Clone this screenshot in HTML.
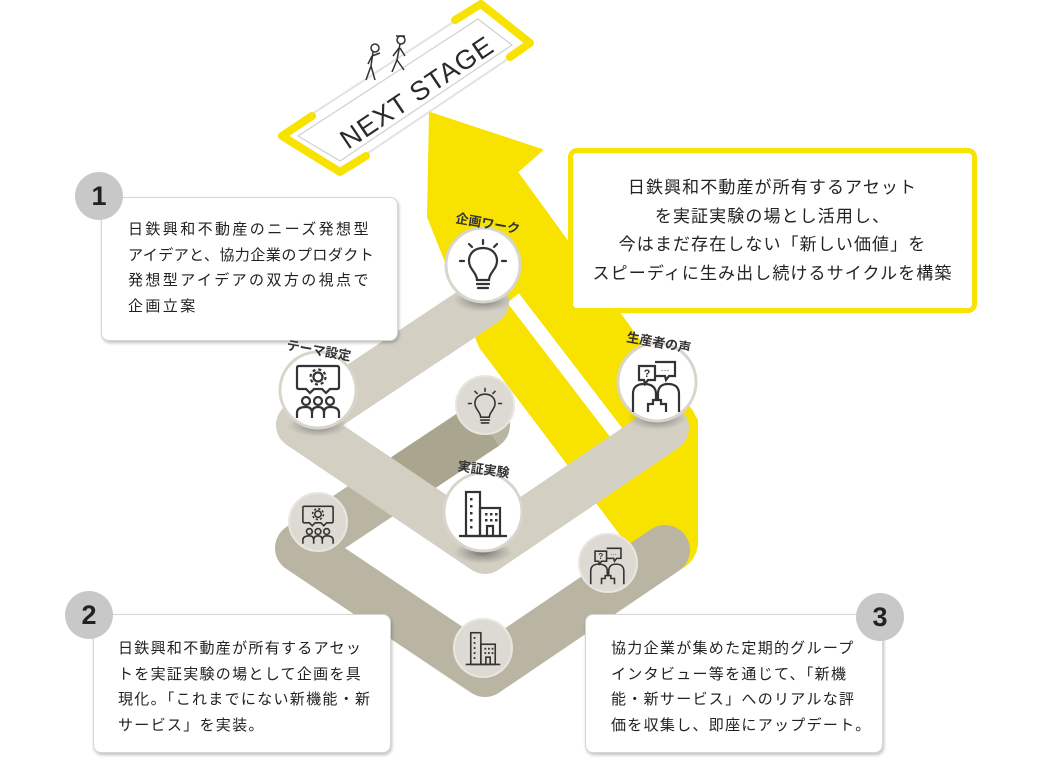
<!DOCTYPE html>
<html><head><meta charset="utf-8">
<style>
html,body{margin:0;padding:0;background:#fff;}
body{width:1040px;height:760px;position:relative;overflow:hidden;font-family:"Liberation Sans","Noto Sans CJK JP",sans-serif;}
.box{position:absolute;background:#fff;border:1.5px solid #d6d6d6;border-radius:8px;box-shadow:1px 2px 3px rgba(0,0,0,.25);box-sizing:border-box;color:#222;font-size:15px;line-height:25.5px;letter-spacing:1.3px;white-space:nowrap;}
.badge{position:absolute;width:48px;height:48px;border-radius:50%;background:#c8c8c8;color:#222;font:bold 27px "Liberation Sans",sans-serif;text-align:center;line-height:48px;}
.ybox{position:absolute;left:568px;top:148px;width:409px;height:165px;border:5px solid #f7e200;border-radius:9px;box-sizing:border-box;background:#fff;text-align:center;font-size:17px;line-height:28.5px;color:#222;padding-top:21px;letter-spacing:1.1px;white-space:nowrap;}
svg{position:absolute;left:0;top:0;}
</style></head><body>
<svg width="1040" height="760" viewBox="0 0 1040 760">
<defs>
<radialGradient id="sh" cx="50%" cy="50%" r="50%"><stop offset="0" stop-color="#555" stop-opacity=".8"/><stop offset="1" stop-color="#777" stop-opacity="0"/></radialGradient>
<g id="bulb" fill="none" stroke="#333" stroke-width="2.2" stroke-linecap="round">
<path d="M-6,10 C-6,3 -14,-1 -14,-9 C-14,-17 -8,-22 0,-22 C8,-22 14,-17 14,-9 C14,-1 6,3 6,10 Z"/>
<line x1="-6" y1="14" x2="6" y2="14"/><line x1="-5" y1="18" x2="5" y2="18"/>
<line x1="0" y1="-30" x2="0" y2="-26"/><line x1="-14" y1="-26" x2="-11" y2="-23"/><line x1="14" y1="-26" x2="11" y2="-23"/>
<line x1="-23" y1="-9" x2="-19" y2="-9"/><line x1="19" y1="-9" x2="23" y2="-9"/>
</g>
<g id="team" fill="none" stroke="#333" stroke-width="2.2">
<path d="M-19,-26 H19 Q21,-26 21,-24 V-5 Q21,-3 19,-3 H12 L8,1 L4,-3 H-4 L-8,1 L-12,-3 H-19 Q-21,-3 -21,-5 V-24 Q-21,-26 -19,-26 Z"/>
<circle cx="0" cy="-15" r="4.5"/><circle cx="0" cy="-15" r="7.5" stroke-dasharray="3 2.9"/>
<circle cx="-12" cy="9" r="4"/><circle cx="0" cy="9" r="4"/><circle cx="12" cy="9" r="4"/>
<path d="M-21,26 V21 Q-21,15 -12,15 Q-6,15 -6,21 V26 M-6,21 Q-6,15 0,15 Q6,15 6,21 V26 M6,21 Q6,15 12,15 Q21,15 21,21 V26"/>
</g>
<g id="bldg" fill="none" stroke="#333" stroke-width="2.2">
<rect x="-17" y="-24" width="14" height="44"/><rect x="-3" y="-8" width="20" height="28"/>
<line x1="-24" y1="20" x2="24" y2="20"/><path d="M4,20 V10 H10 V20"/>
<g fill="#333" stroke="none"><rect x="-13" y="-18" width="2.5" height="2.5"/><rect x="-13" y="-11" width="2.5" height="2.5"/><rect x="-13" y="-4" width="2.5" height="2.5"/><rect x="-13" y="3" width="2.5" height="2.5"/><rect x="-13" y="10" width="2.5" height="2.5"/>
<rect x="2" y="-3" width="2.5" height="2.5"/><rect x="7" y="-3" width="2.5" height="2.5"/><rect x="12" y="-3" width="2.5" height="2.5"/><rect x="2" y="3" width="2.5" height="2.5"/><rect x="7" y="3" width="2.5" height="2.5"/><rect x="12" y="3" width="2.5" height="2.5"/></g>
</g>
<g id="talk" fill="none" stroke="#333" stroke-width="2.2">
<path d="M-18,-22 H-2 V-8 H-9 L-12,-4 L-13,-8 H-18 Z"/><path d="M-2,-26 H18 V-12 H12 L9,-8 L8,-12 H-2"/>
<text x="-10" y="-11" font-size="11" font-weight="bold" fill="#333" stroke="none" text-anchor="middle" font-family="Liberation Sans">?</text>
<text x="8" y="-17" font-size="9" fill="#333" stroke="none" text-anchor="middle" font-family="Liberation Sans">…</text>
<path d="M-24,24 V6 Q-24,-4 -13,-4 Q-1,-4 -1,6 V12 L-4,12 V16 H-9 V24"/>
<path d="M22,24 V6 Q22,-4 11,-4 Q1,-4 1,6 V12 L4,12 V16 H9 V24"/>
</g>
</defs>

<!-- NEXT STAGE plate -->
<polygon points="280,135 340,172 530,44 481,4" fill="#fff" stroke="#e2e2e2" stroke-width="2"/>
<polygon points="298,136 340,161 512,45 478,19" fill="#fff" stroke="#d0d0d0" stroke-width="1.2"/>
<polyline points="312,116 282,136 340,172 366,156" fill="none" stroke="#f7e200" stroke-width="8" stroke-linejoin="round" stroke-linecap="round"/>
<polyline points="455,20 481,4 530,43 510,57" fill="none" stroke="#f7e200" stroke-width="8" stroke-linejoin="round" stroke-linecap="round"/>
<text x="422" y="100" transform="rotate(-34 422 100)" font-family="Liberation Sans" font-size="27" fill="#2a2a2a" text-anchor="middle" letter-spacing="1">NEXT STAGE</text>
<g fill="none" stroke="#333" stroke-width="1.5">
<circle cx="375" cy="48" r="4"/><path d="M373,52 L371,66 L375,80 M371,66 L366,80 M372,56 L380,53 M372,56 L368,64"/>
<circle cx="401" cy="40" r="4"/><path d="M396,36 H405 M400,44 L397,60 L392,72 M397,60 L404,70 M399,48 L393,56 M400,48 L405,56"/>
</g>

<!-- yellow arrow -->
<polygon points="430,113 542,150 517,172 697,420 697,545 640,560 480,347 428,217" fill="#f7e200" stroke="#f7e200" stroke-width="2" stroke-linejoin="round"/>
<circle cx="668" cy="542" r="30" fill="#f7e200"/>
<circle cx="670" cy="425" r="27" fill="#f7e200"/>
<line x1="513" y1="298" x2="645" y2="470" stroke="#fff" stroke-width="15"/>

<!-- lower diamond -->
<polyline points="485,425 300,548 485,672 665,550" fill="none" stroke="#b9b5a2" stroke-width="50" stroke-linejoin="round" stroke-linecap="round"/>
<line x1="485" y1="425" x2="390" y2="488" stroke="#a9a58f" stroke-width="50"/>
<!-- upper diamond -->
<polyline points="485,302 300,425 485,550 665,428" fill="none" stroke="#d3d0c3" stroke-width="48" stroke-linejoin="round" stroke-linecap="round"/>

<g fill="url(#sh)">
<ellipse cx="483" cy="300" rx="30" ry="12"/><ellipse cx="318" cy="425" rx="30" ry="12"/><ellipse cx="483" cy="552" rx="30" ry="12"/><ellipse cx="657" cy="418" rx="30" ry="12"/>
</g>
<g fill="#fff" stroke="#d8d6cc" stroke-width="3">
<circle cx="483" cy="265" r="37"/><circle cx="318" cy="390" r="38"/><circle cx="483" cy="512" r="39"/><circle cx="657" cy="382" r="39"/>
</g>
<g fill="#dcdad2" stroke="#e8e6de" stroke-width="2">
<circle cx="485" cy="405" r="29"/><circle cx="318" cy="522" r="29"/><circle cx="483" cy="648" r="29"/><circle cx="608" cy="563" r="29"/>
</g>
<use href="#bulb" transform="translate(483,270)"/>
<use href="#team" transform="translate(318,392)"/>
<use href="#bldg" transform="translate(483,516)"/>
<use href="#talk" transform="translate(657,388)"/>
<use href="#bulb" transform="translate(485,410) scale(.72)"/>
<use href="#team" transform="translate(318,525) scale(.72)"/>
<use href="#bldg" transform="translate(483,650) scale(.72)"/>
<use href="#talk" transform="translate(608,567) scale(.72)"/>
</svg>

<div class="ybox">日鉄興和不動産が所有するアセット<br>を実証実験の場とし活用し、<br>今はまだ存在しない「新しい価値」を<br>スピーディに生み出し続けるサイクルを構築</div>

<div class="box" style="left:101px;top:197px;width:297px;height:144px;padding:19px 0 0 26px;letter-spacing:2.4px;">日鉄興和不動産のニーズ発想型<br><span style="letter-spacing:0.5px">アイデアと、協力企業のプロダクト</span><br>発想型アイデアの双方の視点で<br>企画立案</div>
<div class="badge" style="left:75px;top:172px;">1</div>

<div class="box" style="left:93px;top:614px;width:298px;height:139px;padding:21px 0 0 24px;">日鉄興和不動産が所有するアセッ<br>トを実証実験の場として企画を具<br>現化。「これまでにない新機能・新<br>サービス」を実装。</div>
<div class="badge" style="left:65px;top:591px;">2</div>

<div class="box" style="left:585px;top:614px;width:298px;height:139px;padding:21px 0 0 25px;">協力企業が集めた定期的グループ<br>インタビュー等を通じて、「新機<br>能・新サービス」へのリアルな評<br>価を収集し、即座にアップデート。</div>
<div class="badge" style="left:856px;top:593px;">3</div>

<svg width="1040" height="760" viewBox="0 0 1040 760" style="pointer-events:none">
<g font-family="Liberation Sans,Noto Sans CJK JP,sans-serif" font-size="13" font-weight="bold" fill="#333" text-anchor="middle">
<text x="487" y="228" transform="rotate(10 487 228)">企画ワーク</text>
<text x="318" y="355" transform="rotate(10 318 355)">テーマ設定</text>
<text x="483" y="474" transform="rotate(8 483 474)">実証実験</text>
<text x="658" y="347" transform="rotate(10 658 347)">生産者の声</text>
</g>
</svg>
</body></html>
